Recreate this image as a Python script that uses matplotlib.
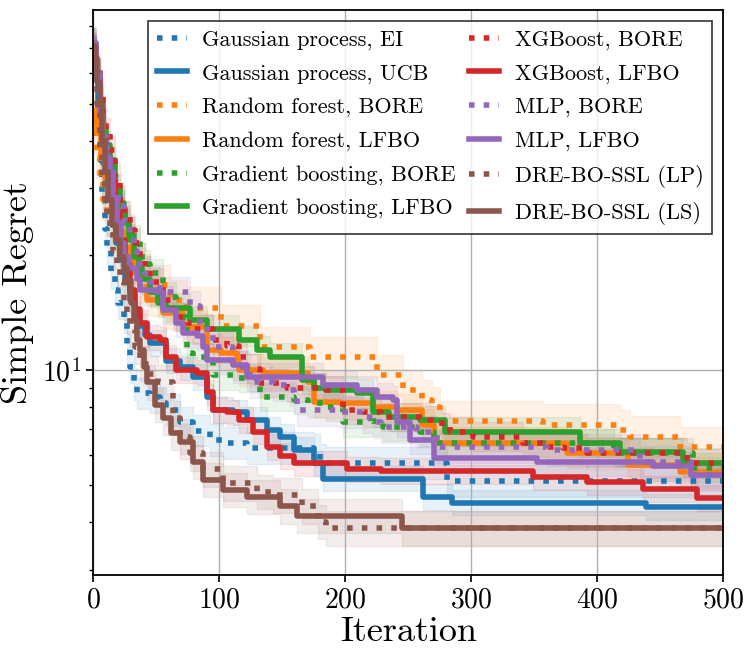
import numpy as np
import matplotlib
matplotlib.use("Agg")
import matplotlib.pyplot as plt

plt.rcParams['font.family'] = 'serif'
plt.rcParams['font.serif'] = ['cmr10']
plt.rcParams['mathtext.fontset'] = 'cm'
plt.rcParams['axes.formatter.use_mathtext'] = True

# step curves: (iteration, simple regret)
gp_ei_it = [0, 2, 4, 5, 7, 9, 11, 14, 17, 20, 24, 27, 29, 32, 35, 45, 53, 58, 69, 79, 93, 103, 122, 175, 180, 185, 281, 500]
gp_ei = [70, 55, 42, 35.6, 28, 23.5, 20.7, 18, 16.2, 15, 13.8, 11.5, 10.2, 9.2, 8.7, 8.5, 8.2, 7.87, 7.3, 6.95, 6.56, 6.45, 6.25, 6.18, 5.82, 5.72, 5.12, 5.12]

gp_ucb_it = [0, 2, 4, 5, 8, 10, 13, 16, 18, 21, 25, 29, 33, 37, 41, 45, 58, 69, 79, 90, 95, 111, 122, 138, 148, 159, 175, 182, 262, 285, 439, 500]
gp_ucb = [70, 58, 47, 42.7, 35, 31, 28, 24, 21.5, 19.5, 17, 15.3, 14, 13.1, 12.4, 11.8, 10.6, 10.2, 9.6, 8.5, 7.87, 7.75, 7.4, 6.97, 6.7, 6.18, 5.7, 5.2, 4.65, 4.5, 4.38, 4.38]

rf_bore_it = [0, 2, 5, 8, 11, 15, 21, 26, 32, 38, 45, 61, 74, 101, 132, 172, 225, 246, 261, 269, 275, 357, 418, 426, 466, 500]
rf_bore = [42, 36, 31.6, 28, 25.5, 23.5, 21.3, 20, 18.9, 17.8, 16.7, 15.3, 14.6, 13.1, 11.5, 10.8, 9.7, 8.88, 8.36, 8.0, 7.35, 7.2, 6.97, 6.7, 6.28, 6.28]

rf_lfbo_it = [0, 2, 3, 6, 9, 13, 16, 20, 24, 28, 32, 37, 43, 55, 71, 90, 101, 114, 116, 135, 170, 175, 196, 222, 241, 261, 270, 376, 424, 466, 500]
rf_lfbo = [48, 45, 42.7, 36, 32, 28.5, 25.5, 23, 21.1, 19.5, 18, 16.5, 15.3, 14.1, 13, 11.3, 11.1, 10.5, 10.0, 9.85, 9.3, 8.25, 8.2, 8.0, 7.87, 7.2, 6.45, 6.08, 5.65, 5.4, 5.4]

gb_bore_it = [0, 2, 5, 8, 10, 13, 16, 20, 24, 28, 32, 37, 41, 45, 55, 66, 74, 79, 95, 116, 132, 159, 170, 185, 198, 220, 230, 259, 270, 413, 476, 500]
gb_bore = [68, 60, 48, 40, 36, 33, 30, 27.5, 25.5, 23.5, 22, 19.8, 19, 18, 15.6, 13.8, 11.1, 10.8, 9.7, 9.55, 8.5, 8.36, 8.2, 8.0, 7.3, 7.35, 7.1, 6.9, 6.45, 6.08, 5.55, 5.55]

gb_lfbo_it = [0, 2, 5, 8, 10, 13, 17, 21, 24, 28, 32, 36, 39, 45, 51, 58, 77, 90, 116, 130, 140, 166, 175, 185, 209, 222, 235, 259, 279, 386, 418, 468, 500]
gb_lfbo = [68, 60, 51, 43, 39, 35.6, 30, 27, 24.3, 22, 19.8, 18.5, 17.3, 16, 15, 14.6, 13.55, 12.8, 12.0, 11.3, 10.8, 9.43, 9.0, 8.88, 8.7, 7.75, 7.55, 7.41, 6.9, 6.45, 6.1, 5.72, 5.72]

xgb_bore_it = [0, 2, 5, 8, 10, 13, 17, 21, 25, 29, 33, 37, 41, 45, 55, 63, 74, 79, 95, 106, 116, 122, 132, 154, 185, 198, 214, 228, 267, 277, 283, 301, 341, 360, 373, 392, 471, 476, 500]
xgb_bore = [70, 62, 54, 46, 42, 37.8, 32, 28, 25.5, 23.3, 21.5, 19.8, 18.3, 17, 15.3, 13.8, 13.3, 12.8, 12.0, 11.6, 10.8, 10.1, 9.25, 9.0, 8.88, 7.87, 7.75, 7.55, 7.4, 7.1, 6.9, 6.7, 6.45, 6.3, 6.25, 6.08, 5.9, 5.7, 5.7]

xgb_lfbo_it = [0, 2, 5, 8, 10, 13, 17, 21, 25, 29, 33, 37, 43, 53, 58, 66, 82, 90, 95, 106, 116, 127, 138, 148, 159, 201, 228, 349, 392, 436, 479, 500]
xgb_lfbo = [70, 60, 48, 40, 36, 31.6, 26, 22, 19, 16.2, 14.5, 13.3, 12.2, 12.0, 10.8, 10.0, 9.85, 8.75, 7.87, 7.75, 7.4, 6.9, 6.3, 5.95, 5.7, 5.5, 5.45, 5.25, 5.1, 4.88, 4.63, 4.63]

mlp_bore_it = [0, 2, 5, 8, 11, 13, 16, 20, 24, 29, 32, 35, 40, 45, 53, 77, 85, 95, 111, 124, 143, 156, 159, 162, 196, 214, 222, 228, 257, 273, 360, 434, 474, 500]
mlp_bore = [72, 60, 45.4, 41, 37.8, 33, 29.7, 27, 24.5, 22, 20.5, 19, 18, 17, 16, 14.7, 12.8, 11.5, 10.2, 9.3, 9.15, 8.88, 8.5, 7.87, 7.75, 7.55, 7.3, 7.1, 6.9, 6.3, 6.18, 5.75, 5.3, 5.3]

mlp_lfbo_it = [0, 2, 5, 8, 10, 13, 16, 19, 22, 24, 28, 35, 37, 51, 55, 66, 71, 82, 87, 90, 111, 122, 182, 209, 225, 238, 241, 251, 270, 352, 444, 474, 500]
mlp_lfbo = [72, 60, 46.7, 40, 36, 33, 28, 24.3, 21.5, 19.8, 18.5, 17.3, 16.2, 16.0, 14.4, 13.3, 12.5, 12.3, 11.5, 10.64, 10.3, 9.6, 9.15, 8.88, 8.5, 8.36, 7.3, 6.56, 5.9, 5.75, 5.6, 5.3, 5.3]

dre_lp_it = [0, 1, 3, 5, 7, 9, 11, 13, 16, 19, 21, 24, 27, 29, 33, 37, 44, 51, 63, 69, 77, 87, 103, 130, 143, 166, 178, 185, 500]
dre_lp = [71, 64, 50, 38, 32, 28, 25, 23, 20.5, 18.5, 17, 15, 13.8, 12.8, 11.5, 10.4, 9.8, 9.3, 7.5, 6.7, 6.05, 5.5, 5.05, 4.8, 4.7, 4.4, 4.0, 3.85, 3.85]

dre_ls_it = [0, 1, 3, 5, 7, 9, 12, 15, 18, 21, 24, 27, 30, 32, 35, 37, 40, 43, 49, 55, 62, 69, 79, 87, 103, 122, 148, 162, 245, 500]
dre_ls = [71, 66, 57, 50, 40, 33, 28, 24, 22, 19.8, 18.5, 17.2, 15, 13.5, 12.0, 11.3, 10.2, 9.3, 8.1, 7.5, 6.85, 6.5, 5.75, 5.15, 4.85, 4.65, 4.4, 4.15, 3.85, 3.85]

labels = ["Gaussian process, EI", "Gaussian process, UCB",
          "Random forest, BORE", "Random forest, LFBO",
          "Gradient boosting, BORE", "Gradient boosting, LFBO",
          "XGBoost, BORE", "XGBoost, LFBO",
          "MLP, BORE", "MLP, LFBO",
          "DRE-BO-SSL (LP)", "DRE-BO-SSL (LS)"]
# rough multiplicative half-width of the shaded bands
bands = [1.10, 1.08, 1.13, 1.10, 1.09, 1.09, 1.09, 1.08, 1.10, 1.09, 1.11, 1.11]

series = [(gp_ei_it, gp_ei), (gp_ucb_it, gp_ucb), (rf_bore_it, rf_bore), (rf_lfbo_it, rf_lfbo),
          (gb_bore_it, gb_bore), (gb_lfbo_it, gb_lfbo), (xgb_bore_it, xgb_bore), (xgb_lfbo_it, xgb_lfbo),
          (mlp_bore_it, mlp_bore), (mlp_lfbo_it, mlp_lfbo), (dre_lp_it, dre_lp), (dre_ls_it, dre_ls)]
colors = ['#1f77b4', '#ff7f0e', '#2ca02c', '#d62728', '#9467bd', '#8c564b']

fig = plt.figure(figsize=(7.53, 6.58), dpi=100)
ax = fig.add_axes([0.1239, 0.1257, 0.9606 - 0.1239, 0.9848 - 0.1257])

for i, ((it, val), lab) in enumerate(zip(series, labels)):
    c = colors[i // 2]
    it = np.array(it)
    val = np.array(val)
    ls = ':' if i % 2 == 0 else '-'
    ax.fill_between(it, val / bands[i], val * bands[i], step='post', color=c, alpha=0.1)
    ax.plot(it, val, drawstyle='steps-post', color=c, lw=4, linestyle=ls, label=lab)

ax.set_yscale('log')
ax.set_xlim(0, 500)
ax.set_ylim(2.9, 88)
ax.set_xticks([0, 100, 200, 300, 400, 500])
ax.grid(True, which='major', color='#b0b0b0', lw=1)
ax.tick_params(axis='both', which='major', labelsize=20, length=5, width=1.2)
ax.tick_params(axis='y', which='minor', length=3, width=1)
for sp in ax.spines.values():
    sp.set_linewidth(1.3)
ax.set_xlabel("Iteration", fontsize=26, labelpad=2)
ax.set_ylabel("Simple Regret", fontsize=26, labelpad=6)

leg = ax.legend(ncol=2, loc='upper right', fontsize=16, handlelength=1.35,
                handletextpad=0.7, columnspacing=0.6, labelspacing=0.62,
                fancybox=False, edgecolor='black', borderaxespad=0.5)
leg.get_frame().set_linewidth(1.2)

fig.savefig("out.png", dpi=100)
